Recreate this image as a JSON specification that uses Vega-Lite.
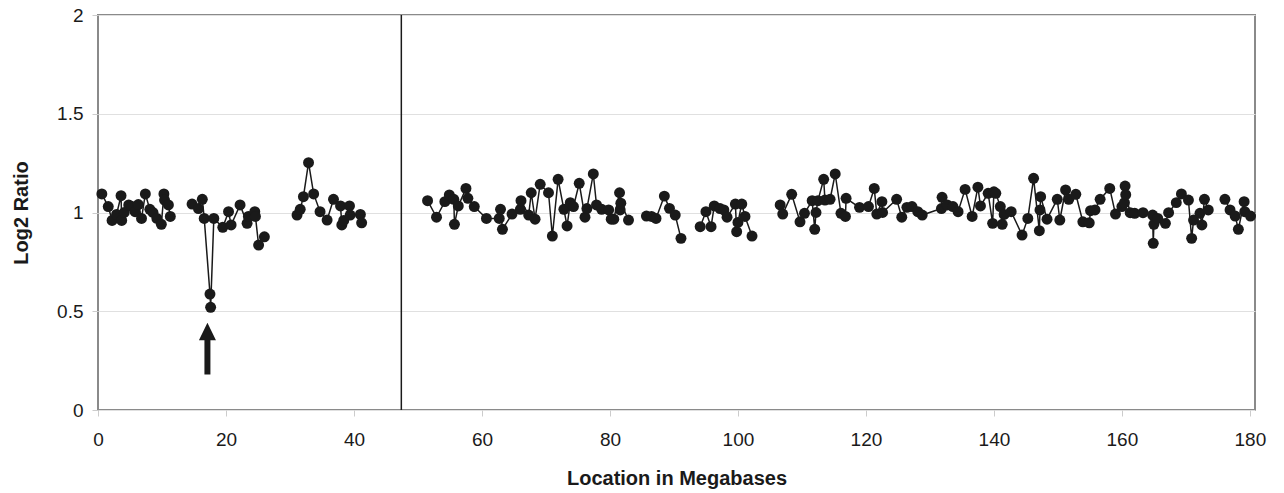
{
  "$schema": "https://vega.github.io/schema/vega-lite/v6.json",
  "width": 1157,
  "height": 395,
  "autosize": "none",
  "padding": {"left": 98, "top": 15, "right": 29, "bottom": 83},
  "background": "white",
  "config": {
    "view": {"stroke": "#8a8a8a", "strokeWidth": 2},
    "font": "Liberation Sans",
    "axis": {
      "labelFont": "Liberation Sans",
      "titleFont": "Liberation Sans",
      "labelFontSize": 19,
      "labelColor": "#1a1a1a",
      "titleFontSize": 20,
      "titleFontWeight": "bold",
      "titleColor": "#1a1a1a",
      "domain": false,
      "tickColor": "#cccccc",
      "tickSize": 6,
      "labelFlush": false
    }
  },
  "datasets": {
    "pts": [
      {"x":0.6,"y":1.094,"s":"A"},{"x":1.6,"y":1.03,"s":"A"},{"x":2.2,"y":0.96,"s":"A"},{"x":2.9,"y":0.99,"s":"A"},{"x":3.6,"y":1.085,"s":"A"},{"x":3.7,"y":0.96,"s":"A"},{"x":4.1,"y":1.0,"s":"A"},{"x":4.8,"y":1.038,"s":"A"},{"x":5.3,"y":1.03,"s":"A"},{"x":5.8,"y":1.004,"s":"A"},{"x":6.3,"y":1.04,"s":"A"},{"x":6.8,"y":0.97,"s":"A"},{"x":7.4,"y":1.094,"s":"A"},{"x":8.1,"y":1.016,"s":"A"},{"x":8.6,"y":1.0,"s":"A"},{"x":9.2,"y":0.97,"s":"A"},{"x":9.9,"y":0.94,"s":"A"},{"x":10.3,"y":1.094,"s":"A"},{"x":10.4,"y":1.063,"s":"A"},{"x":11.0,"y":1.038,"s":"A"},{"x":11.3,"y":0.98,"s":"A"},
      {"x":14.7,"y":1.043,"s":"B"},{"x":15.7,"y":1.02,"s":"B"},{"x":16.3,"y":1.067,"s":"B"},{"x":16.6,"y":0.97,"s":"B"},{"x":17.5,"y":0.587,"s":"B"},{"x":17.6,"y":0.52,"s":"B"},{"x":18.1,"y":0.97,"s":"B"},{"x":19.5,"y":0.925,"s":"B"},{"x":20.4,"y":1.004,"s":"B"},{"x":20.8,"y":0.937,"s":"B"},{"x":22.2,"y":1.038,"s":"B"},{"x":23.3,"y":0.945,"s":"B"},{"x":23.5,"y":0.98,"s":"B"},{"x":24.5,"y":1.004,"s":"B"},{"x":24.6,"y":0.98,"s":"B"},{"x":25.1,"y":0.835,"s":"B"},{"x":26.0,"y":0.877,"s":"B"},
      {"x":31.1,"y":0.987,"s":"C"},{"x":31.6,"y":1.016,"s":"C"},{"x":32.1,"y":1.08,"s":"C"},{"x":32.9,"y":1.252,"s":"C"},{"x":33.7,"y":1.094,"s":"C"},{"x":34.7,"y":1.004,"s":"C"},{"x":35.8,"y":0.962,"s":"C"},{"x":36.8,"y":1.067,"s":"C"},{"x":37.9,"y":1.033,"s":"C"},{"x":38.1,"y":0.937,"s":"C"},{"x":38.4,"y":0.96,"s":"C"},{"x":39.3,"y":1.033,"s":"C"},{"x":39.4,"y":0.987,"s":"C"},{"x":41.0,"y":0.99,"s":"C"},{"x":41.2,"y":0.948,"s":"C"},
      {"x":51.5,"y":1.06,"s":"D"},{"x":52.9,"y":0.976,"s":"D"},{"x":54.2,"y":1.055,"s":"D"},{"x":54.9,"y":1.089,"s":"D"},{"x":55.6,"y":1.067,"s":"D"},{"x":55.7,"y":0.94,"s":"D"},{"x":56.3,"y":1.033,"s":"D"},{"x":57.5,"y":1.122,"s":"D"},{"x":57.8,"y":1.072,"s":"D"},{"x":58.8,"y":1.03,"s":"D"},{"x":60.7,"y":0.97,"s":"D"},{"x":62.7,"y":0.97,"s":"D"},{"x":62.9,"y":1.016,"s":"D"},{"x":63.2,"y":0.915,"s":"D"},{"x":64.7,"y":0.992,"s":"D"},{"x":66.0,"y":1.016,"s":"D"},{"x":66.1,"y":1.06,"s":"D"},{"x":67.3,"y":0.987,"s":"D"},{"x":67.7,"y":1.1,"s":"D"},{"x":68.3,"y":0.966,"s":"D"},{"x":69.1,"y":1.143,"s":"D"},{"x":70.4,"y":1.1,"s":"D"},{"x":71.0,"y":0.881,"s":"D"},{"x":71.9,"y":1.168,"s":"D"},{"x":72.8,"y":1.016,"s":"D"},{"x":73.3,"y":0.932,"s":"D"},{"x":73.8,"y":1.05,"s":"D"},{"x":74.3,"y":1.03,"s":"D"},{"x":75.2,"y":1.148,"s":"D"},{"x":76.1,"y":0.976,"s":"D"},{"x":76.4,"y":1.02,"s":"D"},{"x":77.4,"y":1.195,"s":"D"},{"x":77.9,"y":1.038,"s":"D"},{"x":78.7,"y":1.016,"s":"D"},{"x":79.8,"y":1.013,"s":"D"},{"x":80.2,"y":0.966,"s":"D"},{"x":80.6,"y":0.966,"s":"D"},{"x":81.5,"y":1.1,"s":"D"},{"x":81.6,"y":1.013,"s":"D"},{"x":81.7,"y":1.047,"s":"D"},{"x":82.9,"y":0.962,"s":"D"},
      {"x":85.7,"y":0.982,"s":"E"},{"x":86.5,"y":0.98,"s":"E"},{"x":87.2,"y":0.97,"s":"E"},{"x":88.5,"y":1.083,"s":"E"},{"x":89.3,"y":1.021,"s":"E"},{"x":90.2,"y":0.987,"s":"E"},{"x":91.1,"y":0.869,"s":"E"},
      {"x":94.1,"y":0.928,"s":"F"},{"x":95.0,"y":1.004,"s":"F"},{"x":95.8,"y":0.928,"s":"F"},{"x":96.3,"y":1.033,"s":"F"},{"x":97.2,"y":1.02,"s":"F"},{"x":97.8,"y":1.013,"s":"F"},{"x":98.3,"y":0.976,"s":"F"},{"x":99.6,"y":1.043,"s":"F"},{"x":99.8,"y":0.903,"s":"F"},{"x":100.0,"y":0.95,"s":"F"},{"x":100.6,"y":1.043,"s":"F"},{"x":101.1,"y":0.98,"s":"F"},{"x":102.2,"y":0.881,"s":"F"},
      {"x":106.6,"y":1.038,"s":"G"},{"x":107.0,"y":0.992,"s":"G"},{"x":108.4,"y":1.092,"s":"G"},{"x":109.7,"y":0.953,"s":"G"},{"x":110.4,"y":0.996,"s":"G"},{"x":111.6,"y":1.06,"s":"G"},{"x":112.0,"y":0.915,"s":"G"},{"x":112.2,"y":1.0,"s":"G"},{"x":112.5,"y":1.06,"s":"G"},{"x":113.4,"y":1.168,"s":"G"},{"x":113.6,"y":1.063,"s":"G"},{"x":114.4,"y":1.067,"s":"G"},{"x":115.2,"y":1.195,"s":"G"},{"x":116.1,"y":0.996,"s":"G"},{"x":116.8,"y":0.98,"s":"G"},{"x":116.9,"y":1.072,"s":"G"},{"x":119.0,"y":1.026,"s":"G"},{"x":120.4,"y":1.03,"s":"G"},{"x":121.3,"y":1.122,"s":"G"},{"x":121.7,"y":0.992,"s":"G"},{"x":122.5,"y":1.055,"s":"G"},{"x":122.6,"y":1.0,"s":"G"},{"x":124.8,"y":1.067,"s":"G"},{"x":125.6,"y":0.976,"s":"G"},{"x":126.4,"y":1.026,"s":"G"},{"x":127.2,"y":1.03,"s":"G"},{"x":128.1,"y":1.004,"s":"G"},{"x":128.8,"y":0.987,"s":"G"},{"x":131.8,"y":1.02,"s":"G"},{"x":131.9,"y":1.077,"s":"G"},{"x":132.7,"y":1.038,"s":"G"},{"x":133.6,"y":1.03,"s":"G"},{"x":134.4,"y":1.004,"s":"G"},{"x":135.5,"y":1.117,"s":"G"},{"x":136.6,"y":0.98,"s":"G"},{"x":137.5,"y":1.128,"s":"G"},{"x":137.9,"y":1.033,"s":"G"},{"x":139.1,"y":1.097,"s":"G"},{"x":139.8,"y":0.945,"s":"G"},{"x":140.0,"y":1.105,"s":"G"},{"x":140.3,"y":1.097,"s":"G"},{"x":141.0,"y":1.03,"s":"G"},{"x":141.3,"y":0.94,"s":"G"},{"x":141.6,"y":0.99,"s":"G"},{"x":142.7,"y":1.004,"s":"G"},{"x":144.4,"y":0.886,"s":"G"},{"x":145.3,"y":0.97,"s":"G"},{"x":146.2,"y":1.173,"s":"G"},{"x":147.1,"y":0.908,"s":"G"},{"x":147.2,"y":1.013,"s":"G"},{"x":147.3,"y":1.08,"s":"G"},{"x":148.3,"y":0.966,"s":"G"},{"x":149.9,"y":1.067,"s":"G"},{"x":150.3,"y":0.962,"s":"G"},{"x":151.2,"y":1.114,"s":"G"},{"x":151.7,"y":1.067,"s":"G"},{"x":152.8,"y":1.092,"s":"G"},{"x":153.9,"y":0.953,"s":"G"},{"x":154.9,"y":0.948,"s":"G"},{"x":155.1,"y":1.009,"s":"G"},{"x":155.8,"y":1.013,"s":"G"},{"x":156.6,"y":1.067,"s":"G"},{"x":158.1,"y":1.122,"s":"G"},{"x":159.0,"y":0.992,"s":"G"},{"x":160.0,"y":1.03,"s":"G"},{"x":160.4,"y":1.05,"s":"G"},{"x":160.5,"y":1.134,"s":"G"},{"x":160.6,"y":1.09,"s":"G"},{"x":161.3,"y":0.999,"s":"G"},{"x":162.0,"y":0.996,"s":"G"},{"x":163.3,"y":0.999,"s":"G"},{"x":164.8,"y":0.987,"s":"G"},{"x":164.9,"y":0.844,"s":"G"},{"x":165.0,"y":0.94,"s":"G"},{"x":165.6,"y":0.97,"s":"G"},{"x":166.8,"y":0.945,"s":"G"},{"x":167.3,"y":0.999,"s":"G"},{"x":168.5,"y":1.05,"s":"G"},{"x":169.3,"y":1.094,"s":"G"},{"x":170.4,"y":1.063,"s":"G"},{"x":170.9,"y":0.869,"s":"G"},{"x":171.2,"y":0.962,"s":"G"},{"x":172.2,"y":0.996,"s":"G"},{"x":172.5,"y":0.937,"s":"G"},{"x":172.9,"y":1.067,"s":"G"},{"x":173.5,"y":1.013,"s":"G"},
      {"x":176.1,"y":1.067,"s":"H"},{"x":176.9,"y":1.013,"s":"H"},{"x":177.7,"y":0.982,"s":"H"},{"x":178.2,"y":0.915,"s":"H"},{"x":179.1,"y":1.055,"s":"H"},{"x":179.2,"y":1.004,"s":"H"},{"x":180.1,"y":0.982,"s":"H"}
    ],
    "marker": [{"x": 47.4}],
    "arrow": [{"x": 17.1, "y": 0.311}]
  },
  "layer": [
    {
      "data": {"name": "marker"},
      "mark": {"type": "rule", "color": "#1a1a1a", "strokeWidth": 1.5},
      "encoding": {
        "x": {"field": "x", "type": "quantitative", "scale": {"domain": [0, 180.8], "nice": false},
          "axis": {"values": [0,20,40,60,80,100,120,140,160,180], "title": "Location in Megabases", "titlePadding": 19, "labelPadding": 14, "grid": false}},
        "y": {"datum": 0, "type": "quantitative"},
        "y2": {"datum": 2}
      }
    },
    {
      "data": {"name": "pts"},
      "mark": {"type": "line", "color": "#1a1a1a", "strokeWidth": 1.5},
      "encoding": {
        "x": {"field": "x", "type": "quantitative"},
        "y": {"field": "y", "type": "quantitative", "scale": {"domain": [0, 2], "nice": false},
          "axis": {"values": [0, 0.5, 1, 1.5, 2], "labelExpr": "format(datum.value, '~g')", "title": "Log2 Ratio", "titlePadding": 25, "labelPadding": 9, "grid": true, "gridColor": "#e0e0e0", "gridWidth": 1}},
        "detail": {"field": "s", "type": "nominal"}
      }
    },
    {
      "data": {"name": "pts"},
      "mark": {"type": "point", "filled": true, "color": "#1a1a1a", "opacity": 1, "size": 120},
      "encoding": {
        "x": {"field": "x", "type": "quantitative"},
        "y": {"field": "y", "type": "quantitative"}
      }
    },
    {
      "data": {"name": "arrow"},
      "mark": {"type": "point", "filled": true, "color": "#1a1a1a", "opacity": 1, "size": 2663,
        "shape": "M0,-1L0.33,-0.32L0.116,-0.32L0.116,1L-0.116,1L-0.116,-0.32L-0.33,-0.32Z"},
      "encoding": {
        "x": {"field": "x", "type": "quantitative"},
        "y": {"field": "y", "type": "quantitative"}
      }
    }
  ]
}
